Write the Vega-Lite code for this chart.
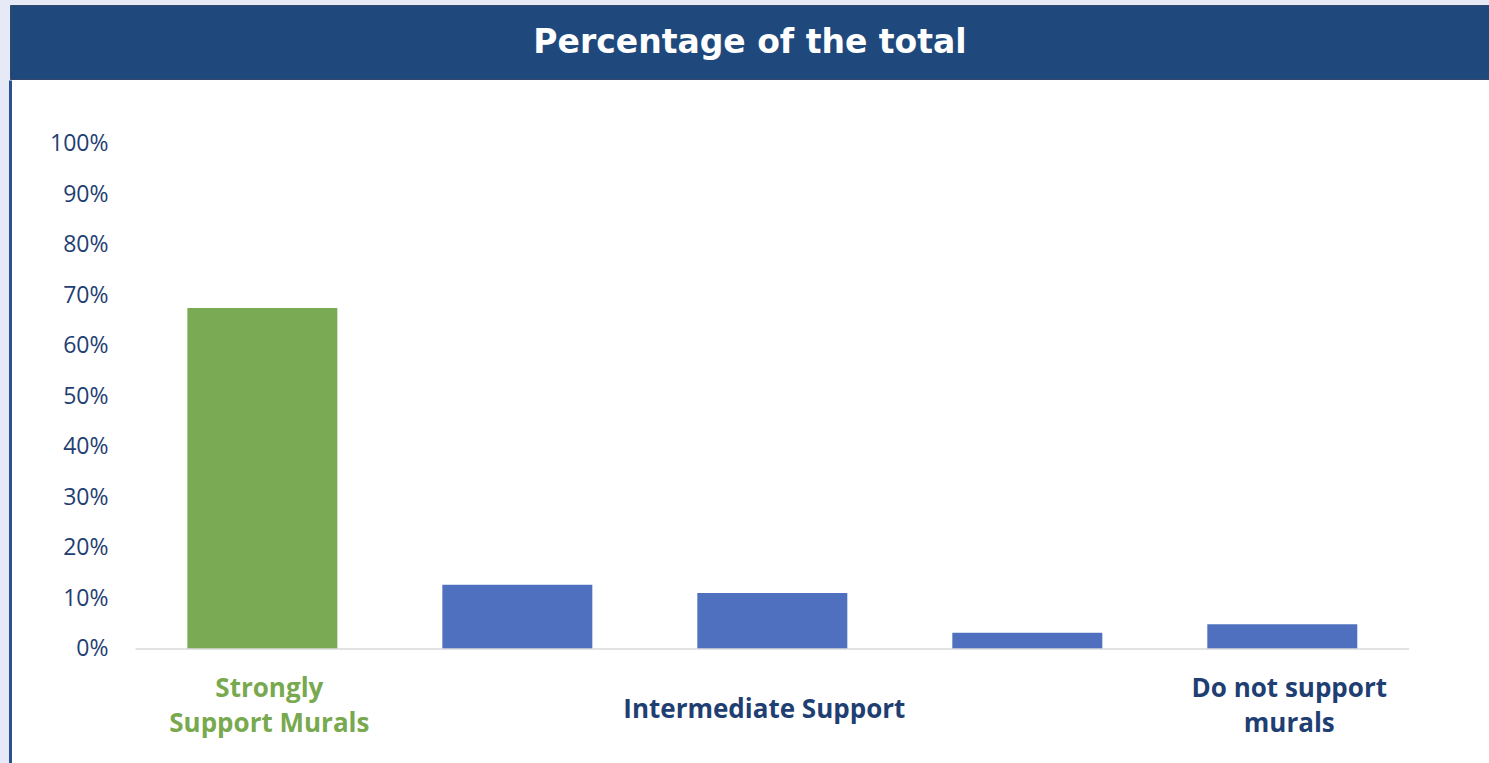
{
  "$schema": "https://vega.github.io/schema/vega-lite/v6.json",
  "padding": {"left": 9, "top": 4, "right": 0, "bottom": 0},
  "background": "#E6EAF6",
  "spacing": 0,
  "align": "none",
  "datasets": {
    "header": [{"title": "Percentage of the total"}],
    "shares": [
      {"bar": 1, "group": "Strongly Support Murals", "pct": 0.675},
      {"bar": 2, "group": "Intermediate Support", "pct": 0.127},
      {"bar": 3, "group": "Intermediate Support", "pct": 0.111},
      {"bar": 4, "group": "Intermediate Support", "pct": 0.032},
      {"bar": 5, "group": "Do not support murals", "pct": 0.049}
    ]
  },
  "vconcat": [
    {
      "width": 1480,
      "height": 74,
      "data": {"name": "header"},
      "view": {"fill": "#1F497D", "stroke": "#34466A", "strokeWidth": 1},
      "mark": {"type": "text", "font": "DejaVu Sans", "fontSize": 33, "fontWeight": "bold", "color": "white", "align": "center", "baseline": "middle", "dy": 1},
      "encoding": {"text": {"field": "title"}}
    },
    {
      "width": 1480,
      "height": 685,
      "view": {"fill": "white", "stroke": null},
      "resolve": {"scale": {"x": "independent"}},
      "layer": [
        {
          "data": {"name": "shares"},
          "mark": {"type": "bar"},
          "encoding": {
            "x": {
              "field": "bar",
              "type": "ordinal",
              "scale": {"paddingInner": 0.4118, "paddingOuter": 0.608, "align": 0.572},
              "axis": {
                "orient": "bottom",
                "offset": -116,
                "title": null,
                "domain": false,
                "ticks": false,
                "labelAngle": 0,
                "labelOverlap": false,
                "labelBound": false,
                "labelFlush": false,
                "labelLimit": 500,
                "labelExpr": "datum.value == 1 ? ['Strongly', 'Support Murals'] : datum.value == 3 ? 'Intermediate Support' : datum.value == 5 ? ['Do not support', 'murals'] : ''",
                "labelFont": "Open Sans",
                "labelFontSize": 26,
                "labelFontWeight": "bold",
                "labelLineHeight": 35,
                "labelBaseline": "top",
                "labelColor": {"condition": {"test": "datum.value == 1", "value": "#78A94F"}, "value": "#1F3F73"},
                "labelPadding": {"condition": {"test": "datum.value == 3", "value": 47}, "value": 26},
                "labelOffset": {"condition": {"test": "datum.value == 3", "value": -8}, "value": 7}
              }
            },
            "y": {
              "field": "pct",
              "type": "quantitative",
              "scale": {"domain": [-0.2297, 1.1267], "nice": false, "zero": false},
              "axis": {
                "title": null,
                "values": [0, 0.1, 0.2, 0.3, 0.4, 0.5, 0.6, 0.7, 0.8, 0.9, 1],
                "format": ".0%",
                "domainColor": "#2B5191",
                "domainWidth": 3,
                "ticks": false,
                "tickSize": 0,
                "minExtent": 0,
                "maxExtent": 0,
                "labelPadding": -98,
                "labelAlign": "right",
                "labelFont": "Open Sans",
                "labelFontSize": 23,
                "labelColor": "#1F3F73",
                "grid": false
              }
            },
            "y2": {"datum": 0},
            "color": {"condition": {"test": "datum.bar == 1", "value": "#7BAA54"}, "value": "#4E70BF"}
          }
        },
        {
          "data": {"values": [{}]},
          "mark": {"type": "rule", "color": "#D9D9D9", "strokeWidth": 1.5},
          "encoding": {
            "x": {"datum": 0.5, "type": "quantitative", "scale": {"domain": [0.007, 5.817], "nice": false, "zero": false}, "axis": null},
            "x2": {"datum": 5.5},
            "y": {"datum": 0, "type": "quantitative"}
          }
        }
      ]
    }
  ]
}
